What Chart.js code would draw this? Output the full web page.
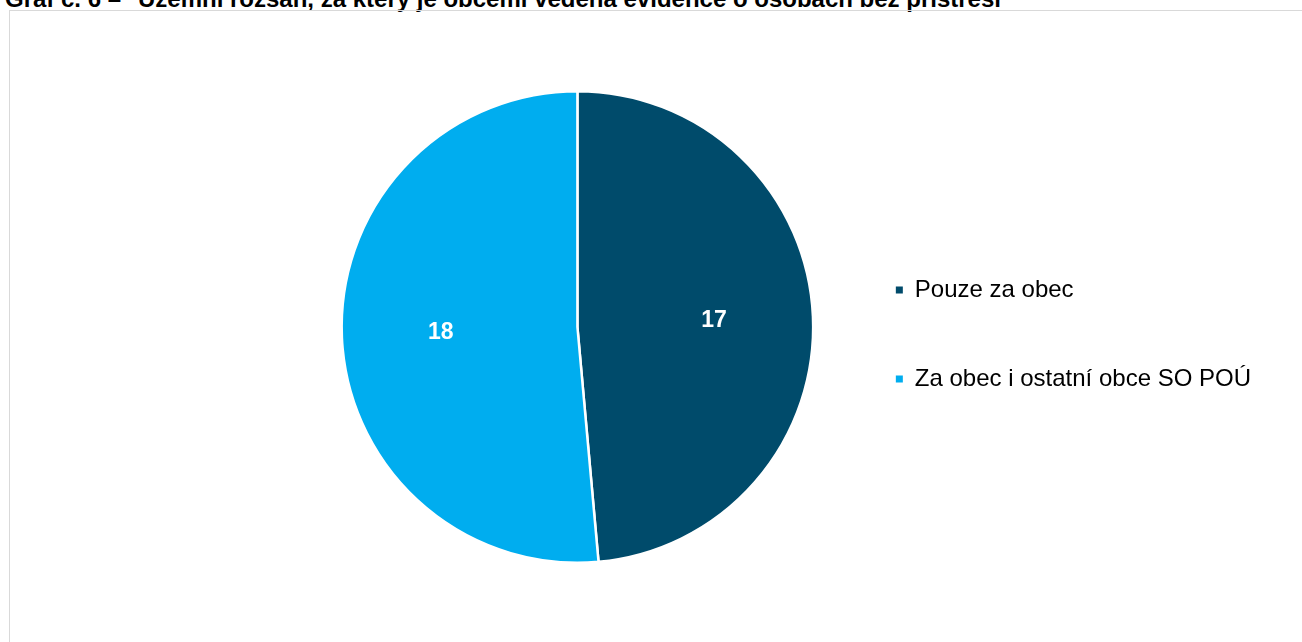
<!DOCTYPE html>
<html lang="cs">
<head>
<meta charset="utf-8">
<title>Graf č. 6</title>
<script src="https://cdn.jsdelivr.net/npm/chart.js@4/dist/chart.umd.min.js"></script>
<style>
  html, body { margin: 0; padding: 0; background: #fff; overflow: hidden; }
  body { width: 1302px; height: 642px; position: relative; font-family: Arial, "Liberation Sans", sans-serif; }
  .title {
    position: absolute; top: -13px;
    font: bold 24px Arial, "Liberation Sans", sans-serif; line-height: 24px;
    color: #000; white-space: nowrap;
  }
  #frame {
    position: absolute; left: 9px; top: 10px; width: 1320px; height: 660px;
    border: 1px solid #d9d9d9; box-sizing: border-box;
  }
  #wrap { position: absolute; left: 10px; top: 11px; width: 1292px; height: 631px; }
</style>
</head>
<body>
<div class="title" style="left:5px">Graf č. 6 –</div>
<div class="title" style="left:138px">Územní rozsah, za který je obcemi vedena evidence o osobách bez přístřeší</div>
<div id="frame"></div>
<div id="wrap"><canvas id="pie"></canvas></div>
<script>
  const labels = ['Pouze za obec', 'Za obec i ostatní obce SO POÚ'];
  const counts = [17, 18];
  const colors = ['#004B6B', '#00ADEF'];

  // white numbers inside each slice
  const sliceLabels = {
    id: 'sliceLabels',
    afterDatasetsDraw(chart) {
      const { ctx } = chart;
      const meta = chart.getDatasetMeta(0);
      ctx.save();
      ctx.font = 'bold 23px Arial, "Liberation Sans", sans-serif';
      ctx.fillStyle = '#fff';
      ctx.textAlign = 'center';
      ctx.textBaseline = 'middle';
      meta.data.forEach((arc, i) => {
        const p = arc.getProps(['x', 'y', 'startAngle', 'endAngle', 'outerRadius'], true);
        const mid = (p.startAngle + p.endAngle) / 2;
        const r = p.outerRadius * 0.58;
        ctx.fillText(String(counts[i]), p.x + Math.cos(mid) * r, p.y + Math.sin(mid) * r);
      });
      ctx.restore();
    },
  };

  new Chart(document.getElementById('pie'), {
    type: 'pie',
    data: {
      labels,
      datasets: [{
        data: counts,
        backgroundColor: colors,
        borderColor: '#fff',
        borderWidth: 2.5,
      }],
    },
    options: {
      responsive: true,
      maintainAspectRatio: false,
      animation: false,
      layout: { padding: { left: 314, right: 41, top: 79, bottom: 78 } },
      plugins: {
        tooltip: { enabled: false },
        legend: {
          position: 'right',
          align: 'center',
          // empty title only nudges the two items down a little
          title: { display: true, text: ' ', font: { size: 10 }, padding: { top: 3, bottom: 0 } },
          labels: {
            color: '#000',
            boxWidth: 7,
            boxHeight: 7,
            padding: 65,
            font: { family: 'Arial, "Liberation Sans", sans-serif', size: 24 },
            // plain filled squares, without the white slice border
            generateLabels(chart) {
              const items = Chart.overrides.pie.plugins.legend.labels.generateLabels(chart);
              return items.map(item => Object.assign(item, { lineWidth: 0 }));
            },
          },
        },
      },
    },
    plugins: [sliceLabels],
  });
</script>
</body>
</html>
